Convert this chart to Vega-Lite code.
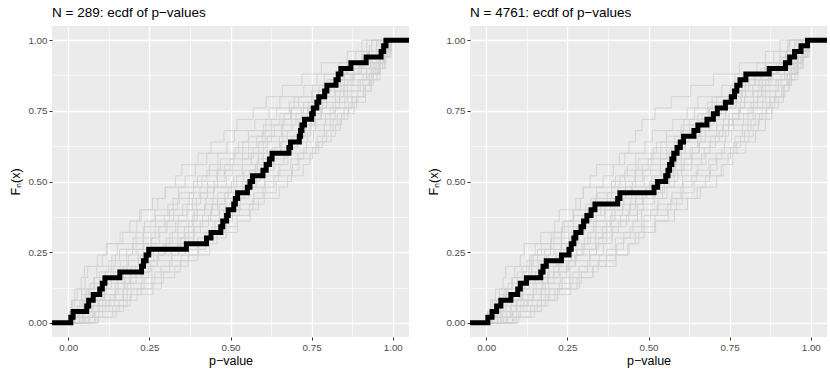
{
"$schema": "https://vega.github.io/schema/vega-lite/v6.json",
"background": "white",
"padding": {"left": 9, "right": 0, "top": 5, "bottom": 5},
"spacing": 8,
"config": {
  "font": "Liberation Sans",
  "view": {"fill": "#EBEBEB", "stroke": null},
  "title": {"anchor": "start", "frame": "group", "fontSize": 13.5, "fontWeight": "normal", "color": "#000000", "offset": 7},
  "axis": {"domain": false, "tickColor": "#333333", "tickSize": 3, "labelColor": "#4D4D4D", "labelFontSize": 9.8, "labelPadding": 2, "titleFontSize": 12.5, "titleFontWeight": "normal", "titleColor": "#000000", "gridColor": "#FFFFFF", "labelOverlap": false, "labelFlush": false},
  "axisX": {"titlePadding": 3},
  "axisY": {"titlePadding": 5}
},
"datasets": {
"grey": [
{"g":1,"x":-0.05,"y":0},{"g":1,"x":0.004,"y":0.04},{"g":1,"x":0.02,"y":0.08},{"g":1,"x":0.028,"y":0.12},{"g":1,"x":0.052,"y":0.16},{"g":1,"x":0.06,"y":0.2},{"g":1,"x":0.105,"y":0.24},{"g":1,"x":0.117,"y":0.28},{"g":1,"x":0.168,"y":0.32},{"g":1,"x":0.211,"y":0.36},{"g":1,"x":0.225,"y":0.4},{"g":1,"x":0.276,"y":0.44},{"g":1,"x":0.298,"y":0.48},{"g":1,"x":0.36,"y":0.52},{"g":1,"x":0.392,"y":0.56},{"g":1,"x":0.427,"y":0.6},{"g":1,"x":0.489,"y":0.64},{"g":1,"x":0.512,"y":0.68},{"g":1,"x":0.575,"y":0.72},{"g":1,"x":0.619,"y":0.76},{"g":1,"x":0.652,"y":0.8},{"g":1,"x":0.726,"y":0.84},{"g":1,"x":0.766,"y":0.88},{"g":1,"x":0.834,"y":0.92},{"g":1,"x":0.886,"y":0.96},{"g":1,"x":0.905,"y":1},{"g":1,"x":1.05,"y":1},
{"g":2,"x":-0.05,"y":0},{"g":2,"x":0.006,"y":0.04},{"g":2,"x":0.013,"y":0.08},{"g":2,"x":0.041,"y":0.12},{"g":2,"x":0.079,"y":0.16},{"g":2,"x":0.088,"y":0.2},{"g":2,"x":0.134,"y":0.24},{"g":2,"x":0.151,"y":0.28},{"g":2,"x":0.209,"y":0.32},{"g":2,"x":0.235,"y":0.36},{"g":2,"x":0.267,"y":0.4},{"g":2,"x":0.323,"y":0.44},{"g":2,"x":0.34,"y":0.48},{"g":2,"x":0.398,"y":0.52},{"g":2,"x":0.435,"y":0.56},{"g":2,"x":0.461,"y":0.6},{"g":2,"x":0.525,"y":0.64},{"g":2,"x":0.555,"y":0.68},{"g":2,"x":0.609,"y":0.72},{"g":2,"x":0.642,"y":0.76},{"g":2,"x":0.696,"y":0.8},{"g":2,"x":0.753,"y":0.84},{"g":2,"x":0.789,"y":0.88},{"g":2,"x":0.862,"y":0.92},{"g":2,"x":0.905,"y":0.96},{"g":2,"x":0.935,"y":1},{"g":2,"x":1.05,"y":1},
{"g":3,"x":-0.05,"y":0},{"g":3,"x":0.004,"y":0.04},{"g":3,"x":0.036,"y":0.08},{"g":3,"x":0.055,"y":0.12},{"g":3,"x":0.081,"y":0.16},{"g":3,"x":0.132,"y":0.2},{"g":3,"x":0.145,"y":0.24},{"g":3,"x":0.198,"y":0.28},{"g":3,"x":0.231,"y":0.32},{"g":3,"x":0.252,"y":0.36},{"g":3,"x":0.312,"y":0.4},{"g":3,"x":0.337,"y":0.44},{"g":3,"x":0.386,"y":0.48},{"g":3,"x":0.412,"y":0.52},{"g":3,"x":0.461,"y":0.56},{"g":3,"x":0.51,"y":0.6},{"g":3,"x":0.538,"y":0.64},{"g":3,"x":0.599,"y":0.68},{"g":3,"x":0.626,"y":0.72},{"g":3,"x":0.685,"y":0.76},{"g":3,"x":0.71,"y":0.8},{"g":3,"x":0.773,"y":0.84},{"g":3,"x":0.829,"y":0.88},{"g":3,"x":0.858,"y":0.92},{"g":3,"x":0.925,"y":0.96},{"g":3,"x":0.95,"y":1},{"g":3,"x":1.05,"y":1},
{"g":4,"x":-0.05,"y":0},{"g":4,"x":0.021,"y":0.04},{"g":4,"x":0.046,"y":0.08},{"g":4,"x":0.062,"y":0.12},{"g":4,"x":0.119,"y":0.16},{"g":4,"x":0.14,"y":0.2},{"g":4,"x":0.186,"y":0.24},{"g":4,"x":0.209,"y":0.28},{"g":4,"x":0.255,"y":0.32},{"g":4,"x":0.301,"y":0.36},{"g":4,"x":0.325,"y":0.4},{"g":4,"x":0.383,"y":0.44},{"g":4,"x":0.406,"y":0.48},{"g":4,"x":0.46,"y":0.52},{"g":4,"x":0.481,"y":0.56},{"g":4,"x":0.537,"y":0.6},{"g":4,"x":0.587,"y":0.64},{"g":4,"x":0.607,"y":0.68},{"g":4,"x":0.661,"y":0.72},{"g":4,"x":0.688,"y":0.76},{"g":4,"x":0.754,"y":0.8},{"g":4,"x":0.789,"y":0.84},{"g":4,"x":0.828,"y":0.88},{"g":4,"x":0.894,"y":0.92},{"g":4,"x":0.923,"y":0.96},{"g":4,"x":0.962,"y":1},{"g":4,"x":1.05,"y":1},
{"g":5,"x":-0.05,"y":0},{"g":5,"x":0.034,"y":0.04},{"g":5,"x":0.052,"y":0.08},{"g":5,"x":0.101,"y":0.12},{"g":5,"x":0.117,"y":0.16},{"g":5,"x":0.17,"y":0.2},{"g":5,"x":0.216,"y":0.24},{"g":5,"x":0.231,"y":0.28},{"g":5,"x":0.282,"y":0.32},{"g":5,"x":0.305,"y":0.36},{"g":5,"x":0.366,"y":0.4},{"g":5,"x":0.395,"y":0.44},{"g":5,"x":0.429,"y":0.48},{"g":5,"x":0.487,"y":0.52},{"g":5,"x":0.505,"y":0.56},{"g":5,"x":0.564,"y":0.6},{"g":5,"x":0.601,"y":0.64},{"g":5,"x":0.626,"y":0.68},{"g":5,"x":0.689,"y":0.72},{"g":5,"x":0.718,"y":0.76},{"g":5,"x":0.77,"y":0.8},{"g":5,"x":0.799,"y":0.84},{"g":5,"x":0.851,"y":0.88},{"g":5,"x":0.904,"y":0.92},{"g":5,"x":0.936,"y":0.96},{"g":5,"x":0.975,"y":1},{"g":5,"x":1.05,"y":1},
{"g":6,"x":-0.05,"y":0},{"g":6,"x":0.046,"y":0.04},{"g":6,"x":0.061,"y":0.08},{"g":6,"x":0.111,"y":0.12},{"g":6,"x":0.133,"y":0.16},{"g":6,"x":0.194,"y":0.2},{"g":6,"x":0.223,"y":0.24},{"g":6,"x":0.256,"y":0.28},{"g":6,"x":0.313,"y":0.32},{"g":6,"x":0.331,"y":0.36},{"g":6,"x":0.388,"y":0.4},{"g":6,"x":0.424,"y":0.44},{"g":6,"x":0.448,"y":0.48},{"g":6,"x":0.51,"y":0.52},{"g":6,"x":0.536,"y":0.56},{"g":6,"x":0.586,"y":0.6},{"g":6,"x":0.613,"y":0.64},{"g":6,"x":0.661,"y":0.68},{"g":6,"x":0.71,"y":0.72},{"g":6,"x":0.737,"y":0.76},{"g":6,"x":0.796,"y":0.8},{"g":6,"x":0.821,"y":0.84},{"g":6,"x":0.877,"y":0.88},{"g":6,"x":0.899,"y":0.92},{"g":6,"x":0.958,"y":0.96},{"g":6,"x":0.985,"y":1},{"g":6,"x":1.05,"y":1},
{"g":7,"x":-0.05,"y":0},{"g":7,"x":0.036,"y":0.04},{"g":7,"x":0.095,"y":0.08},{"g":7,"x":0.113,"y":0.12},{"g":7,"x":0.172,"y":0.16},{"g":7,"x":0.208,"y":0.2},{"g":7,"x":0.232,"y":0.24},{"g":7,"x":0.295,"y":0.28},{"g":7,"x":0.321,"y":0.32},{"g":7,"x":0.371,"y":0.36},{"g":7,"x":0.397,"y":0.4},{"g":7,"x":0.445,"y":0.44},{"g":7,"x":0.493,"y":0.48},{"g":7,"x":0.519,"y":0.52},{"g":7,"x":0.577,"y":0.56},{"g":7,"x":0.601,"y":0.6},{"g":7,"x":0.655,"y":0.64},{"g":7,"x":0.675,"y":0.68},{"g":7,"x":0.731,"y":0.72},{"g":7,"x":0.778,"y":0.76},{"g":7,"x":0.796,"y":0.8},{"g":7,"x":0.848,"y":0.84},{"g":7,"x":0.871,"y":0.88},{"g":7,"x":0.933,"y":0.92},{"g":7,"x":0.962,"y":0.96},{"g":7,"x":0.99,"y":1},{"g":7,"x":1.05,"y":1},
{"g":8,"x":-0.05,"y":0},{"g":8,"x":0.062,"y":0.04},{"g":8,"x":0.092,"y":0.08},{"g":8,"x":0.146,"y":0.12},{"g":8,"x":0.174,"y":0.16},{"g":8,"x":0.224,"y":0.2},{"g":8,"x":0.274,"y":0.24},{"g":8,"x":0.301,"y":0.28},{"g":8,"x":0.36,"y":0.32},{"g":8,"x":0.385,"y":0.36},{"g":8,"x":0.439,"y":0.4},{"g":8,"x":0.46,"y":0.44},{"g":8,"x":0.516,"y":0.48},{"g":8,"x":0.564,"y":0.52},{"g":8,"x":0.582,"y":0.56},{"g":8,"x":0.633,"y":0.6},{"g":8,"x":0.657,"y":0.64},{"g":8,"x":0.718,"y":0.68},{"g":8,"x":0.747,"y":0.72},{"g":8,"x":0.78,"y":0.76},{"g":8,"x":0.836,"y":0.8},{"g":8,"x":0.852,"y":0.84},{"g":8,"x":0.908,"y":0.88},{"g":8,"x":0.94,"y":0.92},{"g":8,"x":0.96,"y":0.96},{"g":8,"x":0.985,"y":1},{"g":8,"x":1.05,"y":1},
{"g":9,"x":-0.05,"y":0},{"g":9,"x":0.051,"y":0.04},{"g":9,"x":0.116,"y":0.08},{"g":9,"x":0.17,"y":0.12},{"g":9,"x":0.192,"y":0.16},{"g":9,"x":0.248,"y":0.2},{"g":9,"x":0.275,"y":0.24},{"g":9,"x":0.34,"y":0.28},{"g":9,"x":0.371,"y":0.32},{"g":9,"x":0.407,"y":0.36},{"g":9,"x":0.466,"y":0.4},{"g":9,"x":0.484,"y":0.44},{"g":9,"x":0.543,"y":0.48},{"g":9,"x":0.579,"y":0.52},{"g":9,"x":0.602,"y":0.56},{"g":9,"x":0.664,"y":0.6},{"g":9,"x":0.689,"y":0.64},{"g":9,"x":0.737,"y":0.68},{"g":9,"x":0.762,"y":0.72},{"g":9,"x":0.807,"y":0.76},{"g":9,"x":0.852,"y":0.8},{"g":9,"x":0.874,"y":0.84},{"g":9,"x":0.928,"y":0.88},{"g":9,"x":0.946,"y":0.92},{"g":9,"x":0.975,"y":0.96},{"g":9,"x":0.992,"y":1},{"g":9,"x":1.05,"y":1},
{"g":10,"x":-0.05,"y":0},{"g":10,"x":0.083,"y":0.04},{"g":10,"x":0.126,"y":0.08},{"g":10,"x":0.169,"y":0.12},{"g":10,"x":0.234,"y":0.16},{"g":10,"x":0.258,"y":0.2},{"g":10,"x":0.32,"y":0.24},{"g":10,"x":0.361,"y":0.28},{"g":10,"x":0.387,"y":0.32},{"g":10,"x":0.452,"y":0.36},{"g":10,"x":0.479,"y":0.4},{"g":10,"x":0.53,"y":0.44},{"g":10,"x":0.557,"y":0.48},{"g":10,"x":0.605,"y":0.52},{"g":10,"x":0.652,"y":0.56},{"g":10,"x":0.677,"y":0.6},{"g":10,"x":0.734,"y":0.64},{"g":10,"x":0.755,"y":0.68},{"g":10,"x":0.807,"y":0.72},{"g":10,"x":0.822,"y":0.76},{"g":10,"x":0.874,"y":0.8},{"g":10,"x":0.916,"y":0.84},{"g":10,"x":0.927,"y":0.88},{"g":10,"x":0.962,"y":0.92},{"g":10,"x":0.978,"y":0.96},{"g":10,"x":0.996,"y":1},{"g":10,"x":1.05,"y":1},
{"g":11,"x":-0.05,"y":0},{"g":11,"x":0.081,"y":0.04},{"g":11,"x":0.157,"y":0.08},{"g":11,"x":0.194,"y":0.12},{"g":11,"x":0.258,"y":0.16},{"g":11,"x":0.286,"y":0.2},{"g":11,"x":0.348,"y":0.24},{"g":11,"x":0.402,"y":0.28},{"g":11,"x":0.424,"y":0.32},{"g":11,"x":0.479,"y":0.36},{"g":11,"x":0.506,"y":0.4},{"g":11,"x":0.569,"y":0.44},{"g":11,"x":0.6,"y":0.48},{"g":11,"x":0.634,"y":0.52},{"g":11,"x":0.691,"y":0.56},{"g":11,"x":0.708,"y":0.6},{"g":11,"x":0.763,"y":0.64},{"g":11,"x":0.796,"y":0.68},{"g":11,"x":0.816,"y":0.72},{"g":11,"x":0.85,"y":0.76},{"g":11,"x":0.875,"y":0.8},{"g":11,"x":0.91,"y":0.84},{"g":11,"x":0.935,"y":0.88},{"g":11,"x":0.955,"y":0.92},{"g":11,"x":0.972,"y":0.96},{"g":11,"x":0.988,"y":1},{"g":11,"x":1.05,"y":1},
{"g":12,"x":-0.05,"y":0},{"g":12,"x":0.094,"y":0.04},{"g":12,"x":0.17,"y":0.08},{"g":12,"x":0.212,"y":0.12},{"g":12,"x":0.287,"y":0.16},{"g":12,"x":0.328,"y":0.2},{"g":12,"x":0.37,"y":0.24},{"g":12,"x":0.436,"y":0.28},{"g":12,"x":0.459,"y":0.32},{"g":12,"x":0.522,"y":0.36},{"g":12,"x":0.561,"y":0.4},{"g":12,"x":0.586,"y":0.44},{"g":12,"x":0.65,"y":0.48},{"g":12,"x":0.676,"y":0.52},{"g":12,"x":0.724,"y":0.56},{"g":12,"x":0.745,"y":0.6},{"g":12,"x":0.772,"y":0.64},{"g":12,"x":0.81,"y":0.68},{"g":12,"x":0.838,"y":0.72},{"g":12,"x":0.862,"y":0.76},{"g":12,"x":0.888,"y":0.8},{"g":12,"x":0.915,"y":0.84},{"g":12,"x":0.94,"y":0.88},{"g":12,"x":0.958,"y":0.92},{"g":12,"x":0.976,"y":0.96},{"g":12,"x":0.993,"y":1},{"g":12,"x":1.05,"y":1},
{"g":21,"x":-0.05,"y":0},{"g":21,"x":0.004,"y":0.02},{"g":21,"x":0.028,"y":0.06},{"g":21,"x":0.042,"y":0.1},{"g":21,"x":0.067,"y":0.14},{"g":21,"x":0.096,"y":0.18},{"g":21,"x":0.125,"y":0.22},{"g":21,"x":0.158,"y":0.26},{"g":21,"x":0.2,"y":0.3},{"g":21,"x":0.232,"y":0.34},{"g":21,"x":0.269,"y":0.38},{"g":21,"x":0.307,"y":0.42},{"g":21,"x":0.342,"y":0.46},{"g":21,"x":0.386,"y":0.5},{"g":21,"x":0.427,"y":0.54},{"g":21,"x":0.469,"y":0.58},{"g":21,"x":0.514,"y":0.62},{"g":21,"x":0.556,"y":0.66},{"g":21,"x":0.601,"y":0.7},{"g":21,"x":0.652,"y":0.74},{"g":21,"x":0.681,"y":0.78},{"g":21,"x":0.75,"y":0.82},{"g":21,"x":0.798,"y":0.86},{"g":21,"x":0.846,"y":0.9},{"g":21,"x":0.906,"y":0.94},{"g":21,"x":0.928,"y":0.98},{"g":21,"x":0.936,"y":1},{"g":21,"x":1.05,"y":1},
{"g":22,"x":-0.05,"y":0},{"g":22,"x":0.014,"y":0.02},{"g":22,"x":0.03,"y":0.06},{"g":22,"x":0.052,"y":0.1},{"g":22,"x":0.099,"y":0.14},{"g":22,"x":0.114,"y":0.18},{"g":22,"x":0.16,"y":0.22},{"g":22,"x":0.18,"y":0.26},{"g":22,"x":0.232,"y":0.3},{"g":22,"x":0.268,"y":0.34},{"g":22,"x":0.296,"y":0.38},{"g":22,"x":0.353,"y":0.42},{"g":22,"x":0.373,"y":0.46},{"g":22,"x":0.429,"y":0.5},{"g":22,"x":0.458,"y":0.54},{"g":22,"x":0.499,"y":0.58},{"g":22,"x":0.556,"y":0.62},{"g":22,"x":0.581,"y":0.66},{"g":22,"x":0.635,"y":0.7},{"g":22,"x":0.665,"y":0.74},{"g":22,"x":0.725,"y":0.78},{"g":22,"x":0.771,"y":0.82},{"g":22,"x":0.809,"y":0.86},{"g":22,"x":0.878,"y":0.9},{"g":22,"x":0.914,"y":0.94},{"g":22,"x":0.949,"y":0.98},{"g":22,"x":0.955,"y":1},{"g":22,"x":1.05,"y":1},
{"g":23,"x":-0.05,"y":0},{"g":23,"x":0.019,"y":0.02},{"g":23,"x":0.044,"y":0.06},{"g":23,"x":0.078,"y":0.1},{"g":23,"x":0.099,"y":0.14},{"g":23,"x":0.151,"y":0.18},{"g":23,"x":0.181,"y":0.22},{"g":23,"x":0.215,"y":0.26},{"g":23,"x":0.257,"y":0.3},{"g":23,"x":0.279,"y":0.34},{"g":23,"x":0.339,"y":0.38},{"g":23,"x":0.366,"y":0.42},{"g":23,"x":0.408,"y":0.46},{"g":23,"x":0.45,"y":0.5},{"g":23,"x":0.483,"y":0.54},{"g":23,"x":0.537,"y":0.58},{"g":23,"x":0.57,"y":0.62},{"g":23,"x":0.613,"y":0.66},{"g":23,"x":0.658,"y":0.7},{"g":23,"x":0.702,"y":0.74},{"g":23,"x":0.74,"y":0.78},{"g":23,"x":0.786,"y":0.82},{"g":23,"x":0.84,"y":0.86},{"g":23,"x":0.881,"y":0.9},{"g":23,"x":0.931,"y":0.94},{"g":23,"x":0.963,"y":0.98},{"g":23,"x":0.97,"y":1},{"g":23,"x":1.05,"y":1},
{"g":24,"x":-0.05,"y":0},{"g":24,"x":0.035,"y":0.02},{"g":24,"x":0.074,"y":0.06},{"g":24,"x":0.107,"y":0.1},{"g":24,"x":0.145,"y":0.14},{"g":24,"x":0.189,"y":0.18},{"g":24,"x":0.224,"y":0.22},{"g":24,"x":0.263,"y":0.26},{"g":24,"x":0.302,"y":0.3},{"g":24,"x":0.338,"y":0.34},{"g":24,"x":0.382,"y":0.38},{"g":24,"x":0.42,"y":0.42},{"g":24,"x":0.461,"y":0.46},{"g":24,"x":0.503,"y":0.5},{"g":24,"x":0.541,"y":0.54},{"g":24,"x":0.583,"y":0.58},{"g":24,"x":0.628,"y":0.62},{"g":24,"x":0.651,"y":0.66},{"g":24,"x":0.71,"y":0.7},{"g":24,"x":0.748,"y":0.74},{"g":24,"x":0.783,"y":0.78},{"g":24,"x":0.824,"y":0.82},{"g":24,"x":0.861,"y":0.86},{"g":24,"x":0.919,"y":0.9},{"g":24,"x":0.949,"y":0.94},{"g":24,"x":0.983,"y":0.98},{"g":24,"x":0.988,"y":1},{"g":24,"x":1.05,"y":1},
{"g":25,"x":-0.05,"y":0},{"g":25,"x":0.054,"y":0.02},{"g":25,"x":0.077,"y":0.06},{"g":25,"x":0.129,"y":0.1},{"g":25,"x":0.154,"y":0.14},{"g":25,"x":0.209,"y":0.18},{"g":25,"x":0.249,"y":0.22},{"g":25,"x":0.279,"y":0.26},{"g":25,"x":0.337,"y":0.3},{"g":25,"x":0.358,"y":0.34},{"g":25,"x":0.414,"y":0.38},{"g":25,"x":0.442,"y":0.42},{"g":25,"x":0.482,"y":0.46},{"g":25,"x":0.537,"y":0.5},{"g":25,"x":0.559,"y":0.54},{"g":25,"x":0.61,"y":0.58},{"g":25,"x":0.635,"y":0.62},{"g":25,"x":0.69,"y":0.66},{"g":25,"x":0.729,"y":0.7},{"g":25,"x":0.759,"y":0.74},{"g":25,"x":0.816,"y":0.78},{"g":25,"x":0.837,"y":0.82},{"g":25,"x":0.893,"y":0.86},{"g":25,"x":0.92,"y":0.9},{"g":25,"x":0.959,"y":0.94},{"g":25,"x":0.985,"y":0.98},{"g":25,"x":0.99,"y":1},{"g":25,"x":1.05,"y":1},
{"g":26,"x":-0.05,"y":0},{"g":26,"x":0.044,"y":0.02},{"g":26,"x":0.106,"y":0.06},{"g":26,"x":0.142,"y":0.1},{"g":26,"x":0.182,"y":0.14},{"g":26,"x":0.228,"y":0.18},{"g":26,"x":0.254,"y":0.22},{"g":26,"x":0.318,"y":0.26},{"g":26,"x":0.346,"y":0.3},{"g":26,"x":0.389,"y":0.34},{"g":26,"x":0.432,"y":0.38},{"g":26,"x":0.465,"y":0.42},{"g":26,"x":0.518,"y":0.46},{"g":26,"x":0.549,"y":0.5},{"g":26,"x":0.59,"y":0.54},{"g":26,"x":0.633,"y":0.58},{"g":26,"x":0.672,"y":0.62},{"g":26,"x":0.706,"y":0.66},{"g":26,"x":0.747,"y":0.7},{"g":26,"x":0.793,"y":0.74},{"g":26,"x":0.824,"y":0.78},{"g":26,"x":0.861,"y":0.82},{"g":26,"x":0.9,"y":0.86},{"g":26,"x":0.94,"y":0.9},{"g":26,"x":0.969,"y":0.94},{"g":26,"x":0.991,"y":0.98},{"g":26,"x":0.994,"y":1},{"g":26,"x":1.05,"y":1},
{"g":27,"x":-0.05,"y":0},{"g":27,"x":0.066,"y":0.02},{"g":27,"x":0.137,"y":0.06},{"g":27,"x":0.182,"y":0.1},{"g":27,"x":0.225,"y":0.14},{"g":27,"x":0.267,"y":0.18},{"g":27,"x":0.312,"y":0.22},{"g":27,"x":0.371,"y":0.26},{"g":27,"x":0.398,"y":0.3},{"g":27,"x":0.443,"y":0.34},{"g":27,"x":0.486,"y":0.38},{"g":27,"x":0.527,"y":0.42},{"g":27,"x":0.572,"y":0.46},{"g":27,"x":0.607,"y":0.5},{"g":27,"x":0.647,"y":0.54},{"g":27,"x":0.686,"y":0.58},{"g":27,"x":0.726,"y":0.62},{"g":27,"x":0.767,"y":0.66},{"g":27,"x":0.789,"y":0.7},{"g":27,"x":0.829,"y":0.74},{"g":27,"x":0.864,"y":0.78},{"g":27,"x":0.892,"y":0.82},{"g":27,"x":0.932,"y":0.86},{"g":27,"x":0.951,"y":0.9},{"g":27,"x":0.974,"y":0.94},{"g":27,"x":0.99,"y":0.98},{"g":27,"x":0.994,"y":1},{"g":27,"x":1.05,"y":1},
{"g":28,"x":-0.05,"y":0},{"g":28,"x":0.089,"y":0.02},{"g":28,"x":0.148,"y":0.06},{"g":28,"x":0.191,"y":0.1},{"g":28,"x":0.261,"y":0.14},{"g":28,"x":0.293,"y":0.18},{"g":28,"x":0.345,"y":0.22},{"g":28,"x":0.399,"y":0.26},{"g":28,"x":0.423,"y":0.3},{"g":28,"x":0.487,"y":0.34},{"g":28,"x":0.52,"y":0.38},{"g":28,"x":0.558,"y":0.42},{"g":28,"x":0.604,"y":0.46},{"g":28,"x":0.641,"y":0.5},{"g":28,"x":0.688,"y":0.54},{"g":28,"x":0.711,"y":0.58},{"g":28,"x":0.753,"y":0.62},{"g":28,"x":0.783,"y":0.66},{"g":28,"x":0.823,"y":0.7},{"g":28,"x":0.842,"y":0.74},{"g":28,"x":0.881,"y":0.78},{"g":28,"x":0.916,"y":0.82},{"g":28,"x":0.934,"y":0.86},{"g":28,"x":0.96,"y":0.9},{"g":28,"x":0.977,"y":0.94},{"g":28,"x":0.995,"y":0.98},{"g":28,"x":0.997,"y":1},{"g":28,"x":1.05,"y":1}
],
"greyL": [
{"g":13,"x":-0.05,"y":0},{"g":13,"x":0.005,"y":0.04},{"g":13,"x":0.01,"y":0.08},{"g":13,"x":0.02,"y":0.12},{"g":13,"x":0.04,"y":0.16},{"g":13,"x":0.05,"y":0.2},{"g":13,"x":0.09,"y":0.24},{"g":13,"x":0.12,"y":0.28},{"g":13,"x":0.16,"y":0.32},{"g":13,"x":0.19,"y":0.36},{"g":13,"x":0.22,"y":0.4},{"g":13,"x":0.26,"y":0.44},{"g":13,"x":0.3,"y":0.48},{"g":13,"x":0.33,"y":0.52},{"g":13,"x":0.35,"y":0.56},{"g":13,"x":0.4,"y":0.6},{"g":13,"x":0.44,"y":0.64},{"g":13,"x":0.48,"y":0.68},{"g":13,"x":0.52,"y":0.72},{"g":13,"x":0.57,"y":0.76},{"g":13,"x":0.61,"y":0.8},{"g":13,"x":0.66,"y":0.84},{"g":13,"x":0.72,"y":0.88},{"g":13,"x":0.78,"y":0.92},{"g":13,"x":0.86,"y":0.96},{"g":13,"x":0.92,"y":1},{"g":13,"x":1.05,"y":1}
],
"greyR": [
{"g":14,"x":-0.05,"y":0},{"g":14,"x":0.01,"y":0.04},{"g":14,"x":0.03,"y":0.08},{"g":14,"x":0.06,"y":0.12},{"g":14,"x":0.08,"y":0.16},{"g":14,"x":0.11,"y":0.2},{"g":14,"x":0.14,"y":0.24},{"g":14,"x":0.17,"y":0.28},{"g":14,"x":0.2,"y":0.32},{"g":14,"x":0.24,"y":0.36},{"g":14,"x":0.27,"y":0.4},{"g":14,"x":0.29,"y":0.44},{"g":14,"x":0.3,"y":0.48},{"g":14,"x":0.32,"y":0.52},{"g":14,"x":0.34,"y":0.56},{"g":14,"x":0.41,"y":0.6},{"g":14,"x":0.44,"y":0.64},{"g":14,"x":0.46,"y":0.68},{"g":14,"x":0.48,"y":0.72},{"g":14,"x":0.52,"y":0.76},{"g":14,"x":0.57,"y":0.8},{"g":14,"x":0.63,"y":0.84},{"g":14,"x":0.7,"y":0.88},{"g":14,"x":0.78,"y":0.92},{"g":14,"x":0.86,"y":0.96},{"g":14,"x":0.93,"y":1},{"g":14,"x":1.05,"y":1},
{"g":15,"x":-0.05,"y":0},{"g":15,"x":0.1,"y":0.04},{"g":15,"x":0.17,"y":0.08},{"g":15,"x":0.22,"y":0.12},{"g":15,"x":0.28,"y":0.16},{"g":15,"x":0.33,"y":0.2},{"g":15,"x":0.4,"y":0.24},{"g":15,"x":0.44,"y":0.28},{"g":15,"x":0.47,"y":0.32},{"g":15,"x":0.52,"y":0.36},{"g":15,"x":0.58,"y":0.4},{"g":15,"x":0.62,"y":0.44},{"g":15,"x":0.66,"y":0.48},{"g":15,"x":0.71,"y":0.52},{"g":15,"x":0.73,"y":0.56},{"g":15,"x":0.76,"y":0.6},{"g":15,"x":0.8,"y":0.64},{"g":15,"x":0.83,"y":0.68},{"g":15,"x":0.86,"y":0.72},{"g":15,"x":0.88,"y":0.76},{"g":15,"x":0.9,"y":0.8},{"g":15,"x":0.92,"y":0.84},{"g":15,"x":0.94,"y":0.88},{"g":15,"x":0.96,"y":0.92},{"g":15,"x":0.975,"y":0.96},{"g":15,"x":0.99,"y":1},{"g":15,"x":1.05,"y":1}
],
"blackL": [
{"x":-0.05,"y":0},{"x":0.008,"y":0.02},{"x":0.015,"y":0.04},{"x":0.057,"y":0.06},{"x":0.063,"y":0.08},{"x":0.077,"y":0.1},{"x":0.097,"y":0.12},{"x":0.105,"y":0.14},{"x":0.113,"y":0.16},{"x":0.159,"y":0.18},{"x":0.226,"y":0.2},{"x":0.232,"y":0.22},{"x":0.24,"y":0.24},{"x":0.248,"y":0.26},{"x":0.364,"y":0.28},{"x":0.426,"y":0.3},{"x":0.44,"y":0.32},{"x":0.47,"y":0.34},{"x":0.476,"y":0.36},{"x":0.488,"y":0.38},{"x":0.493,"y":0.4},{"x":0.51,"y":0.42},{"x":0.515,"y":0.44},{"x":0.522,"y":0.46},{"x":0.552,"y":0.48},{"x":0.56,"y":0.5},{"x":0.568,"y":0.52},{"x":0.6,"y":0.54},{"x":0.61,"y":0.56},{"x":0.62,"y":0.58},{"x":0.628,"y":0.6},{"x":0.68,"y":0.62},{"x":0.685,"y":0.64},{"x":0.712,"y":0.66},{"x":0.716,"y":0.68},{"x":0.72,"y":0.7},{"x":0.728,"y":0.72},{"x":0.75,"y":0.74},{"x":0.755,"y":0.76},{"x":0.766,"y":0.78},{"x":0.772,"y":0.8},{"x":0.79,"y":0.82},{"x":0.797,"y":0.84},{"x":0.825,"y":0.86},{"x":0.832,"y":0.88},{"x":0.84,"y":0.9},{"x":0.871,"y":0.92},{"x":0.918,"y":0.94},{"x":0.964,"y":0.96},{"x":0.972,"y":0.98},{"x":0.979,"y":1},{"x":1.05,"y":1}
],
"blackR": [
{"x":-0.05,"y":0},{"x":0.005,"y":0.02},{"x":0.018,"y":0.04},{"x":0.032,"y":0.06},{"x":0.045,"y":0.08},{"x":0.076,"y":0.1},{"x":0.097,"y":0.12},{"x":0.105,"y":0.14},{"x":0.124,"y":0.16},{"x":0.168,"y":0.18},{"x":0.175,"y":0.2},{"x":0.185,"y":0.22},{"x":0.232,"y":0.24},{"x":0.255,"y":0.26},{"x":0.262,"y":0.28},{"x":0.27,"y":0.3},{"x":0.276,"y":0.32},{"x":0.292,"y":0.34},{"x":0.3,"y":0.36},{"x":0.31,"y":0.38},{"x":0.323,"y":0.4},{"x":0.335,"y":0.42},{"x":0.405,"y":0.44},{"x":0.412,"y":0.46},{"x":0.517,"y":0.48},{"x":0.528,"y":0.5},{"x":0.553,"y":0.52},{"x":0.56,"y":0.54},{"x":0.565,"y":0.56},{"x":0.572,"y":0.58},{"x":0.578,"y":0.6},{"x":0.588,"y":0.62},{"x":0.598,"y":0.64},{"x":0.608,"y":0.66},{"x":0.64,"y":0.68},{"x":0.652,"y":0.7},{"x":0.68,"y":0.72},{"x":0.7,"y":0.74},{"x":0.712,"y":0.76},{"x":0.737,"y":0.78},{"x":0.755,"y":0.8},{"x":0.765,"y":0.82},{"x":0.772,"y":0.84},{"x":0.782,"y":0.86},{"x":0.8,"y":0.88},{"x":0.872,"y":0.9},{"x":0.922,"y":0.92},{"x":0.935,"y":0.94},{"x":0.95,"y":0.96},{"x":0.97,"y":0.98},{"x":0.99,"y":1},{"x":1.05,"y":1}
]
},
"hconcat": [
{
  "width": 357, "height": 311,
  "title": {"text": "N = 289: ecdf of p−values", "anchor": "start", "frame": "group"},
  "encoding": {
    "x": {"field": "x", "type": "quantitative", "scale": {"domain": [-0.05, 1.05], "nice": false, "zero": false},
      "axis": {"title": "p−value", "values": [0, 0.125, 0.25, 0.375, 0.5, 0.625, 0.75, 0.875, 1],
        "labelExpr": "(datum.value*8)%2==0 ? format(datum.value,'.2f') : ''",
        "gridWidth": {"condition": {"test": "(datum.value*8)%2!=0", "value": 0.6}, "value": 1.3},
        "tickOpacity": {"condition": {"test": "(datum.value*8)%2!=0", "value": 0}, "value": 1}}},
    "y": {"field": "y", "type": "quantitative", "scale": {"domain": [-0.05, 1.05], "nice": false, "zero": false},
      "axis": {"title": "Fₙ(x)", "values": [0, 0.125, 0.25, 0.375, 0.5, 0.625, 0.75, 0.875, 1],
        "labelExpr": "(datum.value*8)%2==0 ? format(datum.value,'.2f') : ''",
        "gridWidth": {"condition": {"test": "(datum.value*8)%2!=0", "value": 0.6}, "value": 1.3},
        "tickOpacity": {"condition": {"test": "(datum.value*8)%2!=0", "value": 0}, "value": 1}}}
  },
  "layer": [
    {"data": {"name": "grey"}, "mark": {"type": "line", "interpolate": "step-after", "color": "#D0D0D0", "strokeWidth": 0.9}, "encoding": {"detail": {"field": "g"}}},
    {"data": {"name": "greyL"}, "mark": {"type": "line", "interpolate": "step-after", "color": "#D0D0D0", "strokeWidth": 0.9}, "encoding": {"detail": {"field": "g"}}},
    {"data": {"name": "blackL"}, "mark": {"type": "line", "interpolate": "step-after", "color": "#000000", "strokeWidth": 5}, "encoding": {}}
  ]
},
{
  "width": 357, "height": 311,
  "title": {"text": "N = 4761: ecdf of p−values", "anchor": "start", "frame": "group"},
  "encoding": {
    "x": {"field": "x", "type": "quantitative", "scale": {"domain": [-0.05, 1.05], "nice": false, "zero": false},
      "axis": {"title": "p−value", "values": [0, 0.125, 0.25, 0.375, 0.5, 0.625, 0.75, 0.875, 1],
        "labelExpr": "(datum.value*8)%2==0 ? format(datum.value,'.2f') : ''",
        "gridWidth": {"condition": {"test": "(datum.value*8)%2!=0", "value": 0.6}, "value": 1.3},
        "tickOpacity": {"condition": {"test": "(datum.value*8)%2!=0", "value": 0}, "value": 1}}},
    "y": {"field": "y", "type": "quantitative", "scale": {"domain": [-0.05, 1.05], "nice": false, "zero": false},
      "axis": {"title": "Fₙ(x)", "values": [0, 0.125, 0.25, 0.375, 0.5, 0.625, 0.75, 0.875, 1],
        "labelExpr": "(datum.value*8)%2==0 ? format(datum.value,'.2f') : ''",
        "gridWidth": {"condition": {"test": "(datum.value*8)%2!=0", "value": 0.6}, "value": 1.3},
        "tickOpacity": {"condition": {"test": "(datum.value*8)%2!=0", "value": 0}, "value": 1}}}
  },
  "layer": [
    {"data": {"name": "grey"}, "mark": {"type": "line", "interpolate": "step-after", "color": "#D0D0D0", "strokeWidth": 0.9}, "encoding": {"detail": {"field": "g"}}},
    {"data": {"name": "greyR"}, "mark": {"type": "line", "interpolate": "step-after", "color": "#D0D0D0", "strokeWidth": 0.9}, "encoding": {"detail": {"field": "g"}}},
    {"data": {"name": "blackR"}, "mark": {"type": "line", "interpolate": "step-after", "color": "#000000", "strokeWidth": 5}, "encoding": {}}
  ]
}
]
}
